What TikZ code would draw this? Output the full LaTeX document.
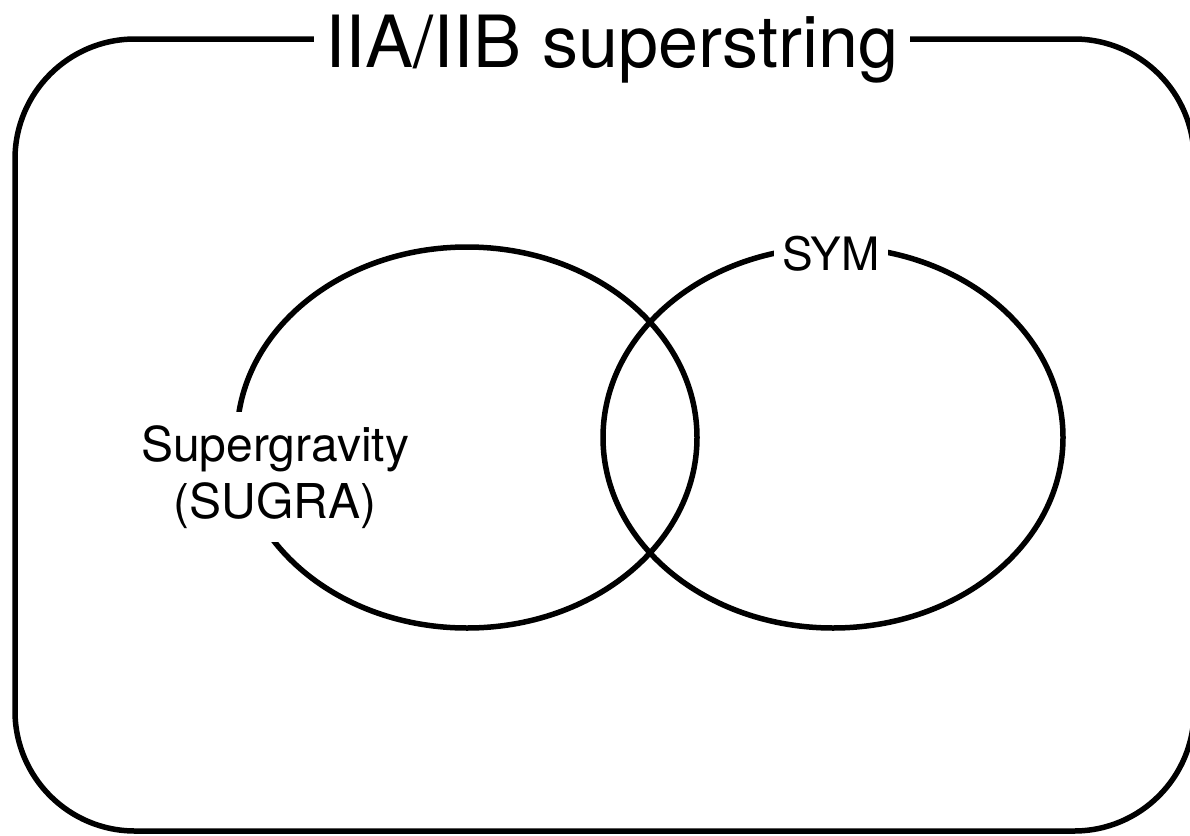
\documentclass[tikz,border=0pt]{standalone}
\usepackage{fontspec}
\setmainfont{TeX Gyre Heros}
\begin{document}
\begin{tikzpicture}[x=1pt,y=-1pt,
  frame/.style={line width=5.5pt, rounded corners=120pt},
  set/.style={line width=5.5pt},
  titlelbl/.style={fill=white, inner xsep=12pt, inner ysep=4pt, font=\fontsize{72}{86}\selectfont},
  setlbl/.style={fill=white, inner xsep=8pt, inner ysep=8pt, align=center, font=\fontsize{48}{57}\selectfont}]
\useasboundingbox (0,0) rectangle (1190,835);
\draw[frame] (15,39) rectangle (1194,831);
\node[titlelbl, anchor=base] (title) at (612,67) {IIA/IIB superstring};
\draw[set] (467,437.5) ellipse [x radius=230, y radius=190.5];
\draw[set] (833,437.5) ellipse [x radius=230, y radius=190.5];
\node[setlbl, inner ysep=13pt] (sugra) at (275,477) {Supergravity\\(SUGRA)};
\node[setlbl, anchor=base, inner ysep=6pt, font=\fontsize{46}{56}\selectfont] (sym) at (831,270) {SYM};
\end{tikzpicture}
\end{document}
